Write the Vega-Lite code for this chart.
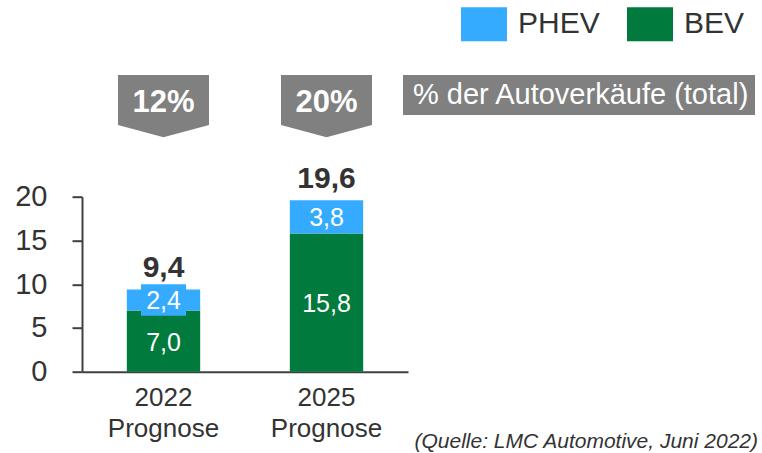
{
  "$schema": "https://vega.github.io/schema/vega-lite/v6.json",
  "width": 326,
  "height": 175,
  "autosize": {"type": "none"},
  "padding": {"left": 82, "top": 196.7, "right": 354, "bottom": 81.3},
  "background": "white",
  "title": {
    "text": "(Quelle: LMC Automotive, Juni 2022)",
    "orient": "bottom",
    "anchor": "end",
    "frame": "group",
    "dx": 350,
    "dy": 2,
    "fontSize": 21,
    "fontStyle": "italic",
    "fontWeight": "normal",
    "color": "#333333",
    "font": "Liberation Sans",
    "baseline": "alphabetic"
  },
  "datasets": {
    "anteile": [
      {"jahr": "2022 Prognose", "typ": "BEV", "wert": 7.0},
      {"jahr": "2022 Prognose", "typ": "PHEV", "wert": 2.4},
      {"jahr": "2025 Prognose", "typ": "BEV", "wert": 15.8},
      {"jahr": "2025 Prognose", "typ": "PHEV", "wert": 3.8}
    ],
    "marktanteil": [
      {"jahr": "2022 Prognose", "anteil": "12%", "hinweis": "% der Autoverkäufe (total)"},
      {"jahr": "2025 Prognose", "anteil": "20%", "hinweis": "% der Autoverkäufe (total)"}
    ]
  },
  "encoding": {
    "x": {
      "field": "jahr",
      "type": "nominal",
      "sort": ["2022 Prognose", "2025 Prognose"],
      "scale": {"paddingInner": 0.55, "paddingOuter": 0.275},
      "axis": {
        "title": null,
        "labelAngle": 0,
        "ticks": false,
        "domainColor": "#404040",
        "domainWidth": 2,
        "labelFontSize": 26,
        "labelColor": "#333333",
        "labelFont": "Liberation Sans",
        "labelPadding": 13,
        "labelExpr": "split(datum.label, ' ')",
        "labelLineHeight": 31,
        "labelBaseline": "top"
      }
    }
  },
  "layer": [
    {
      "data": {"name": "anteile"},
      "mark": {"type": "bar"},
      "encoding": {
        "y": {
          "field": "wert",
          "type": "quantitative",
          "stack": "zero",
          "title": null,
          "scale": {"domain": [0, 20], "nice": false},
          "axis": {
            "values": [0, 5, 10, 15, 20],
            "title": null,
            "grid": false,
            "tickSize": 10,
            "tickWidth": 2,
            "tickColor": "#404040",
            "domainColor": "#404040",
            "domainWidth": 2,
            "labelFontSize": 29,
            "labelColor": "#333333",
            "labelFont": "Liberation Sans",
            "labelPadding": 25,
            "labelFlush": false,
            "format": "d"
          }
        },
        "color": {
          "field": "typ",
          "type": "nominal",
          "scale": {"domain": ["PHEV", "BEV"], "range": ["#35ABFF", "#007A3D"]},
          "legend": {
            "orient": "none",
            "legendX": 379,
            "legendY": -196,
            "direction": "horizontal",
            "title": null,
            "symbolType": "M-1,-0.74H1V0.74H-1Z",
            "symbolSize": 2116,
            "symbolStrokeWidth": 0,
            "labelFontSize": 30,
            "labelColor": "#333333",
            "labelFont": "Liberation Sans",
            "labelOffset": 11,
            "columnPadding": 27,
            "padding": 0,
            "labelLimit": 400
          }
        },
        "order": {"field": "typ", "sort": "ascending"}
      }
    },
    {
      "data": {"values": [{}]},
      "mark": {"type": "bar", "size": 45, "color": "#35ABFF"},
      "encoding": {
        "x": {"datum": "2022 Prognose", "type": "nominal"},
        "y": {"datum": 6.4, "type": "quantitative", "title": null},
        "y2": {"datum": 10.0}
      }
    },
    {
      "data": {"name": "anteile"},
      "transform": [
        {"stack": "wert", "groupby": ["jahr"], "sort": [{"field": "typ", "order": "ascending"}], "as": ["y0", "y1"]},
        {"fold": ["y0", "y1"], "as": ["grenze", "pos"]},
        {"aggregate": [{"op": "mean", "field": "pos", "as": "mitte"}, {"op": "max", "field": "wert", "as": "wert"}], "groupby": ["jahr", "typ"]}
      ],
      "mark": {"type": "text", "fontSize": 25, "color": "#FFFFFF", "baseline": "middle", "dy": 1.5, "font": "Liberation Sans"},
      "encoding": {
        "y": {"field": "mitte", "type": "quantitative", "title": null},
        "text": {"field": "wert", "type": "quantitative", "format": ".1f"}
      }
    },
    {
      "data": {"name": "anteile"},
      "transform": [
        {"aggregate": [{"op": "sum", "field": "wert", "as": "summe"}], "groupby": ["jahr"]}
      ],
      "mark": {"type": "text", "fontSize": 30, "fontWeight": "bold", "color": "#333333", "baseline": "alphabetic", "dy": -12.5, "font": "Liberation Sans"},
      "encoding": {
        "y": {"field": "summe", "type": "quantitative", "title": null},
        "text": {"field": "summe", "type": "quantitative", "format": ".1f"}
      }
    },
    {
      "data": {"name": "marktanteil"},
      "mark": {"type": "point", "filled": true, "size": 8281, "color": "#808080", "opacity": 1, "strokeWidth": 0},
      "encoding": {
        "y": {"datum": 30.35, "type": "quantitative", "title": null},
        "shape": {
          "field": "hinweis",
          "type": "nominal",
          "scale": {"domain": ["% der Autoverkäufe (total)"], "range": ["M-1,-0.685L1,-0.685L1,0.414L0,0.685L-1,0.414Z"]},
          "legend": {
            "orient": "none",
            "legendX": 321,
            "legendY": -121.7,
            "title": null,
            "fillColor": "#808080",
            "padding": 5,
            "labelFontSize": 29,
            "labelColor": "#FFFFFF",
            "labelFont": "Liberation Sans",
            "labelOffset": -24,
            "labelLimit": 500,
            "symbolOpacity": 0,
            "symbolSize": 25,
            "symbolStrokeWidth": 0
          }
        }
      }
    },
    {
      "data": {"name": "marktanteil"},
      "mark": {"type": "text", "fontSize": 31, "fontWeight": "bold", "color": "#FFFFFF", "baseline": "alphabetic", "dy": 6, "font": "Liberation Sans"},
      "encoding": {
        "y": {"datum": 30.35, "type": "quantitative", "title": null},
        "text": {"field": "anteil", "type": "nominal"}
      }
    }
  ],
  "config": {
    "view": {"stroke": null},
    "font": "Liberation Sans",
    "locale": {
      "number": {"decimal": ",", "thousands": ".", "grouping": [3], "currency": ["", " €"]}
    }
  }
}
